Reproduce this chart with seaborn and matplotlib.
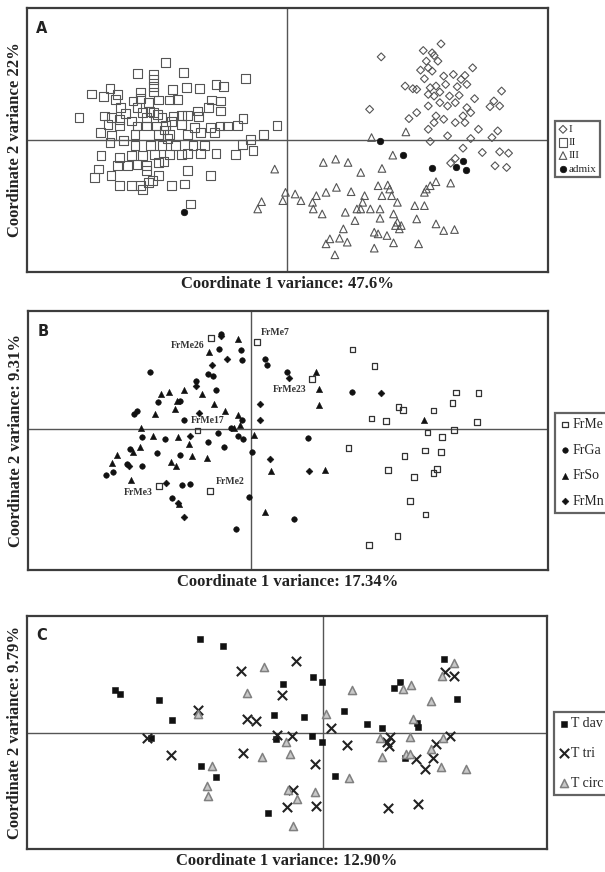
import numpy as np
import pandas as pd
import matplotlib
matplotlib.use('Agg')
import matplotlib.pyplot as plt
import seaborn as sns

sns.set_style('white')
plt.rcParams['font.family'] = ['Liberation Serif', 'DejaVu Serif']

# ---------------- panel A : groups I, II, III, admix ----------------
a_I_x = [2.43, 3.98, 3.52, 3.75, 3.80, 3.60, 3.90, 3.45, 3.65, 3.55, 3.75, 4.05, 4.30, 4.60, 4.80,
         3.05, 3.25, 3.35, 3.70, 3.85, 4.10, 4.40, 4.65, 3.65, 3.80, 3.95, 4.20, 4.45, 4.85, 5.55,
         2.13, 3.15, 3.35, 3.65, 3.95, 4.15, 4.35, 4.65, 5.25, 5.35, 5.50, 3.85, 4.05, 3.80, 4.35,
         4.55, 4.75, 4.60, 4.95, 5.45, 5.30, 3.65, 4.15, 4.75, 3.70, 4.55, 5.05, 5.50, 5.73, 4.35,
         4.23, 5.38, 5.68, 4.50]
a_I_y = [2.50, 2.89, 2.69, 2.62, 2.54, 2.37, 2.37, 2.10, 2.17, 1.84, 2.07, 1.92, 1.97, 1.94, 2.17,
         1.62, 1.54, 1.52, 1.57, 1.62, 1.67, 1.60, 1.67, 1.37, 1.32, 1.44, 1.32, 1.34, 1.24, 1.47,
         0.92, 0.64, 0.82, 1.02, 1.12, 1.02, 1.12, 0.97, 1.00, 1.17, 1.02, 0.72, 0.62, 0.52, 0.52,
         0.72, 0.82, 0.52, 0.32, 0.27, 0.07, 0.32, 0.12, 0.04, -0.05, -0.25, -0.38, -0.36, -0.40, -0.56,
         -0.70, -0.78, -0.83, 1.82]

a_II_x = [-3.15, -3.88, -3.47, -2.70, -3.47, -1.09, -3.47, -1.85, -1.65, -2.98, -2.61, -2.28, -5.07, -4.77,
          -4.60, -4.40, -3.80, -3.47, -3.80, -3.35, -3.05, -2.85, -1.97, -1.73, -4.45, -4.33, -4.00, -3.60,
          -3.90, -3.75, -3.47, -3.37, -2.33, -2.05, -1.73, -5.40, -4.75, -4.55, -4.35, -4.05, -3.65, -3.25,
          -2.95, -2.75, -2.60, -2.30, -1.15, -4.85, -4.65, -4.35, -3.90, -3.65, -3.40, -3.15, -2.75, -2.40,
          -2.00, -1.75, -1.55, -1.30, -0.27, -4.55, -3.95, -3.35, -3.05, -2.60, -2.25, -1.90, -0.95, -0.63,
          -4.60, -4.25, -3.95, -3.55, -3.25, -2.90, -2.45, -2.15, -1.17, -4.83, -4.35, -4.05, -3.75, -3.45,
          -3.05, -2.75, -2.60, -2.25, -1.85, -1.35, -0.89, -4.90, -4.40, -4.15, -3.90, -3.65, -3.35, -3.20,
          -3.65, -3.35, -2.60, -2.00, -4.57, -5.00, -4.35, -4.05, -3.80, -3.60, -3.50, -3.75, -3.00, -2.67,
          -2.52, -3.56, -3.20, -3.00, -4.20, -3.10]
a_II_y = [2.34, 1.99, 1.97, 2.02, 1.82, 1.84, 1.60, 1.67, 1.60, 1.52, 1.57, 1.55, 1.38, 1.30,
          1.54, 1.36, 1.44, 1.44, 1.24, 1.20, 1.20, 1.22, 1.20, 1.17, 1.22, 0.97, 1.17, 1.12,
          0.97, 0.82, 0.82, 0.77, 0.87, 0.97, 0.87, 0.67, 0.72, 0.67, 0.62, 0.57, 0.67, 0.67,
          0.72, 0.74, 0.74, 0.70, 0.64, 0.22, 0.47, 0.42, 0.42, 0.42, 0.42, 0.44, 0.47, 0.37,
          0.37, 0.42, 0.42, 0.44, 0.44, 0.12, 0.17, 0.17, 0.17, 0.17, 0.22, 0.22, 0.02, 0.17,
          -0.08, -0.03, -0.18, -0.18, -0.18, -0.18, -0.18, -0.18, -0.13, -0.48, -0.53, -0.48, -0.48, -0.43,
          -0.43, -0.43, -0.40, -0.40, -0.40, -0.43, -0.33, -0.88, -0.78, -0.78, -0.73, -0.78, -0.68, -0.66,
          -0.93, -1.08, -0.93, -1.08, -1.08, -1.13, -1.38, -1.38, -1.38, -1.28, -1.23, -1.50, -1.38, -1.33,
          -1.93, 0.86, 0.30, 0.55, 0.80, 0.05]

a_III_x = [-0.33, 2.18, 3.07, 2.73, 0.93, 1.25, 1.57, 1.90, 2.45, -0.05, 0.20, 0.35, -0.12, -0.67,
           -0.77, 0.65, 0.75, 1.00, 0.67, 0.90, 1.27, 1.65, 2.00, 2.35, 2.60, 2.65, 2.85, 1.95,
           1.80, 1.90, 2.15, 2.45, 2.70, 2.40, 2.75, 2.85, 1.50, 1.75, 2.40, 2.80, 2.90, 2.95,
           3.35, 3.30, 3.55, 3.60, 3.55, 3.70, 3.85, 4.23, 3.85, 4.05, 4.33, 1.45, 1.35, 1.10,
           1.55, 1.00, 1.23, 2.25, 2.35, 2.58, 2.75, 2.25, 3.40]
a_III_y = [-0.88, 0.07, 0.24, -0.46, -0.68, -0.58, -0.68, -0.98, -0.86, -1.58, -1.63, -1.83, -1.83, -1.86,
           -2.08, -1.88, -1.68, -1.58, -2.08, -2.23, -1.43, -1.56, -1.68, -1.38, -1.36, -1.48, -1.88, -1.88,
           -2.08, -2.08, -2.08, -1.68, -1.68, -2.08, -2.23, -2.48, -2.18, -2.43, -2.36, -2.58, -2.68, -2.58,
           -2.38, -1.98, -1.98, -1.48, -1.58, -1.38, -1.26, -1.30, -2.53, -2.73, -2.70, -2.68, -2.96, -2.98,
           -3.08, -3.13, -3.46, -2.78, -2.83, -2.88, -3.10, -3.26, -3.13]

a_adm_x = [-2.67, 2.40, 3.00, 3.75, 4.38, 4.55, 4.63]
a_adm_y = [-2.16, -0.03, -0.45, -0.86, -0.83, -0.63, -0.90]

# ---------------- panel B : FrMe, FrGa, FrSo, FrMn ----------------
b_me_x = [-1.03, 0.16, 1.58, -1.38, -2.37, -1.06, 2.63, 3.20, 5.31, 5.90, 5.23, 3.83, 3.95, 4.73, 3.13, 3.51,
          5.86, 4.58, 5.26, 4.96, 2.53, 3.98, 4.51, 4.93, 3.55, 4.23, 4.73, 4.83, 4.13, 4.53, 3.80, 3.06]
b_me_y = [2.80, 2.68, 1.55, -0.04, -1.74, -1.90, 2.45, 1.95, 1.13, 1.11, 0.80, 0.68, 0.60, 0.58, 0.33, 0.26,
          0.22, -0.10, -0.02, -0.24, -0.58, -0.82, -0.65, -0.70, -1.25, -1.47, -1.34, -1.22, -2.20, -2.62, -3.27, -3.55]
b_me_names = ['FrMe26', 'FrMe7', 'FrMe23', 'FrMe17', 'FrMe3', 'FrMe2']

b_ga_x = [-2.62, -0.76, -0.24, -0.22, -0.83, -1.12, -0.97, -0.90, -1.42, -2.40, -3.02, -2.94, 0.38, 0.41,
          0.93, 2.63, 1.48, -2.22, -2.82, -3.75, -3.56, -3.20, -2.42, -1.84, -1.79, -1.58, -2.05, -0.37,
          -0.04, 1.12, 0.03, -0.69, -0.32, -0.20, -1.12, -3.12, -0.22, -1.82, -1.72, -0.52, -2.82, -0.86]
b_ga_y = [1.76, 2.93, 2.43, 2.13, 2.48, 1.70, 1.65, 1.20, 1.48, 0.83, 0.48, 0.56, 2.16, 1.98,
          1.76, 1.16, -0.27, -0.30, -1.14, -1.39, -1.32, -1.07, -0.72, -0.79, -1.70, -1.69, -2.12, -3.05,
          -2.07, -2.75, -0.70, -0.54, -0.22, -0.30, -0.40, -0.60, 0.28, 0.88, 0.28, 0.03, -0.24, -0.10]

b_so_x = [-0.32, -1.09, -2.32, -2.12, -1.74, -1.27, -1.92, -2.47, -1.97, -0.95, -0.67, -0.34, -0.44, -2.84,
          -2.52, -1.89, -1.59, -1.52, -1.14, -2.07, -1.94, -2.87, -3.47, -3.59, -3.10, -1.87, 0.08, 0.53,
          1.93, 0.38, 1.68, 1.78, 1.78, 4.48, -0.27, -3.04]
b_so_y = [2.76, 2.36, 1.08, 1.15, 1.21, 1.08, 0.88, 0.48, 0.63, 0.78, 0.56, 0.43, 0.03, 0.03,
          -0.22, -0.24, -0.44, -0.82, -0.89, -1.00, -1.12, -0.54, -0.79, -1.04, -1.57, -2.30, -0.17, -1.29,
          -1.24, -2.54, 1.76, 1.25, 0.76, 0.28, 0.13, -0.70]

b_mn_x = [-0.77, -0.62, -1.00, -1.42, -1.34, 0.23, 0.23, 0.98, 3.38, 0.51, 1.50, -2.20, -1.72, -1.89, -3.15, -1.57]
b_mn_y = [2.86, 2.16, 1.96, 1.33, 0.50, 0.78, 0.30, 1.58, 1.10, -0.90, -1.27, -1.65, -2.69, -2.27, -1.12, -0.22]

# ---------------- panel C : T dav, T tri, T circ ----------------
c_dav_x = [-3.20, -2.61, -5.40, -5.28, -4.25, -3.92, -1.06, -0.26, -0.03, -1.29, -0.50, 0.52, 1.12, 1.52, 1.99,
           1.84, 3.11, 3.47, 2.42, 2.44, -0.29, -0.04, -1.24, -4.46, -3.18, -2.79, 0.29, -1.43, 2.12]
c_dav_y = [2.87, 2.66, 1.30, 1.18, 0.99, 0.39, 1.49, 1.71, 1.56, 0.53, 0.47, 0.66, 0.27, 0.13, 1.57,
           1.38, 2.25, 1.05, 0.30, 0.18, -0.10, -0.27, -0.19, -0.15, -1.03, -1.37, -1.33, -2.46, -0.77]

c_tri_x = [-0.71, -2.13, -1.08, -3.26, -1.99, -1.74, -4.56, -3.94, -2.08, -1.21, -0.81, 0.20, 0.62, -0.23, -0.78,
           -0.94, -0.20, 1.72, 1.64, 1.69, 2.39, 2.62, 2.84, 2.92, 3.29, 3.14, 3.39, 1.66, 2.44]
c_tri_y = [2.21, 1.91, 1.15, 0.71, 0.41, 0.35, -0.15, -0.69, -0.63, -0.07, -0.09, 0.13, -0.39, -0.97, -1.77,
           -2.27, -2.25, -0.12, -0.27, -0.42, -0.82, -1.12, -0.77, -0.35, -0.09, 1.85, 1.73, -2.30, -2.19]

c_circ_x = [-1.53, -1.98, -3.26, 0.74, 2.26, 2.06, 2.79, 0.07, 2.32, 1.47, 2.24, -0.96, -0.86, -1.59, 1.52, 2.14,
            2.24, 2.79, 3.09, 3.04, 3.69, 3.37, 3.07, -2.88, -3.01, -2.99, 0.67, -0.91, -0.69, -0.21, -0.78]
c_circ_y = [2.01, 1.23, 0.58, 1.30, 1.48, 1.33, 0.97, 0.57, 0.43, -0.17, -0.12, -0.29, -0.65, -0.74, -0.75, -0.65,
            -0.65, -0.49, -0.17, -1.05, -1.10, 2.15, 1.75, -1.02, -1.65, -1.94, -1.40, -1.75, -2.05, -1.82, -2.87]

EDGE = '#3c3c3c'
fig = plt.figure(figsize=(6.05, 8.72), dpi=100)
axA = fig.add_axes([0.0446, 0.688, 0.861, 0.3028])
axB = fig.add_axes([0.0463, 0.3463, 0.8595, 0.297])
axC = fig.add_axes([0.0446, 0.0264, 0.8595, 0.267])


def style_axes(ax, xlim, ylim, letter, xlab, ylab):
    ax.set_xlim(*xlim)
    ax.set_ylim(*ylim)
    ax.axhline(0, color='#555555', lw=1.0, zorder=0)
    ax.axvline(0, color='#555555', lw=1.0, zorder=0)
    ax.set_xticks([])
    ax.set_yticks([])
    for sp in ax.spines.values():
        sp.set_color(EDGE)
        sp.set_linewidth(1.6)
        sp.set_visible(True)
    ax.set_xlabel(xlab, fontsize=12, fontweight='bold', labelpad=3, color='#222222')
    ax.set_ylabel(ylab, fontsize=12, fontweight='bold', labelpad=3, color='#222222')
    ax.text(0.018, 0.95, letter, transform=ax.transAxes, fontsize=10.5, fontweight='bold',
            family='DejaVu Sans', va='top', ha='left', color='#222222')


def legend(ax, y, fs, spacing):
    leg = ax.legend(loc='center left', bbox_to_anchor=(1.013, y), frameon=True, fancybox=False,
                    fontsize=fs, labelspacing=spacing, handletextpad=0.1, handlelength=0.8,
                    borderpad=0.35, borderaxespad=0, edgecolor=EDGE)
    leg.get_frame().set_linewidth(1.6)


# panel A
sns.scatterplot(x=a_I_x, y=a_I_y, marker='D', s=16, facecolor='none', edgecolor='#555555',
                linewidth=0.8, label='I', ax=axA)
sns.scatterplot(x=a_II_x, y=a_II_y, marker='s', s=40, facecolor='none', edgecolor='#555555',
                linewidth=0.8, label='II', ax=axA)
sns.scatterplot(x=a_III_x, y=a_III_y, marker='^', s=30, facecolor='none', edgecolor='#555555',
                linewidth=0.8, label='III', ax=axA)
sns.scatterplot(x=a_adm_x, y=a_adm_y, marker='o', s=22, color='#111111', edgecolor='#111111',
                linewidth=0.5, label='admix', ax=axA)
style_axes(axA, (-6.75, 6.75), (-3.98, 3.97), 'A', 'Coordinate 1 variance: 47.6%',
           'Coordinate 2 variance 22%')
legend(axA, 0.466, 8, 0.3)

# panel B
sns.scatterplot(x=b_me_x, y=b_me_y, marker='s', s=16, facecolor='none', edgecolor='#333333',
                linewidth=0.9, label='FrMe', ax=axB)
sns.scatterplot(x=b_ga_x, y=b_ga_y, marker='o', s=16, color='#111111', edgecolor='#111111',
                linewidth=0.4, label='FrGa', ax=axB)
sns.scatterplot(x=b_so_x, y=b_so_y, marker='^', s=20, color='#111111', edgecolor='#111111',
                linewidth=0.4, label='FrSo', ax=axB)
sns.scatterplot(x=b_mn_x, y=b_mn_y, marker='D', s=12, color='#111111', edgecolor='#111111',
                linewidth=0.4, label='FrMn', ax=axB)
name_offsets = [(-5, -5, 'right'), (3, 7, 'left'), (-4, -8, 'right'),
                (-5, 7, 'left'), (-5, -5, 'right'), (4, 7, 'left')]
for name, xv, yv, (dx, dy, ha) in zip(b_me_names, b_me_x, b_me_y, name_offsets):
    axB.annotate(name, (xv, yv), xytext=(dx, dy), textcoords='offset points', ha=ha, va='center',
                 fontsize=7, fontweight='bold', color='#333333')
style_axes(axB, (-5.77, 7.70), (-4.32, 3.63), 'B', 'Coordinate 1 variance: 17.34%',
           'Coordinate 2 variance: 9.31%')
legend(axB, 0.413, 10, 0.9)

# panel C
sns.scatterplot(x=c_dav_x, y=c_dav_y, marker='s', s=16, color='#111111', edgecolor='#111111',
                linewidth=0.4, label='T dav', ax=axC)
sns.scatterplot(x=c_tri_x, y=c_tri_y, marker='x', s=45, color='#222222', linewidth=1.5,
                label='T tri', ax=axC)
sns.scatterplot(x=c_circ_x, y=c_circ_y, marker='^', s=34, color='#c8c8c8', edgecolor='#808080',
                linewidth=1.1, label='T circ', ax=axC)
style_axes(axC, (-7.68, 5.79), (-3.57, 3.58), 'C', 'Coordinate 1 variance: 12.90%',
           'Coordinate 2 variance: 9.79%')
legend(axC, 0.41, 10, 1.2)

fig.savefig('out.png', dpi=100)
